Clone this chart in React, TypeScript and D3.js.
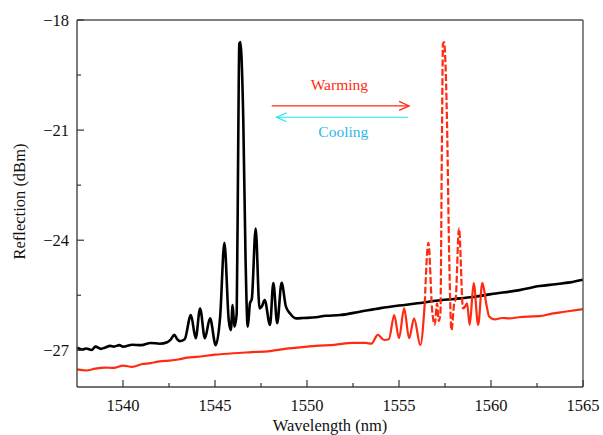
import React from 'react';
import * as d3 from 'd3';

const W = 603, H = 435;
const MARGIN = { top: 20, right: 20, bottom: 48, left: 77 };
const INNER_W = W - MARGIN.left - MARGIN.right;
const INNER_H = H - MARGIN.top - MARGIN.bottom;

// axis ticks
const X_MAJOR = [1540, 1545, 1550, 1555, 1560, 1565];
const X_MINOR = [1542.5, 1547.5, 1552.5, 1557.5, 1562.5];
const Y_MAJOR = [-27, -24, -21, -18];
const Y_MINOR = [-25.5, -22.5, -19.5];

// black trace (before warming)
const blackWl = [
  1537.5, 1537.8, 1538.0, 1538.3, 1538.5, 1538.8, 1539.0, 1539.3, 1539.5, 1539.8, 1540.0, 1540.5, 1541.0, 1541.5, 1542.0,
  1542.4, 1542.6, 1542.79, 1542.95, 1543.1, 1543.35, 1543.69, 1543.95, 1544.19, 1544.45, 1544.73, 1545.04,
  1545.28, 1545.51, 1545.75, 1545.86, 1545.96, 1546.05, 1546.18, 1546.26, 1546.32, 1546.38,
  1546.44, 1546.54, 1546.66, 1546.78, 1546.9, 1547.0, 1547.21, 1547.42, 1547.55, 1547.7,
  1547.99, 1548.17, 1548.38, 1548.62, 1548.85, 1549.07, 1549.4, 1549.8, 1550.5, 1551.0,
  1551.8, 1552.87, 1554.0, 1555.0, 1556.0, 1557.0, 1558.0, 1559.0, 1560.0, 1561.55,
  1562.64, 1563.5, 1564.3, 1565.0,
];
const blackDb = [
  -26.93, -26.98, -26.95, -26.99, -26.9, -26.96, -26.93, -26.88, -26.9, -26.86, -26.9, -26.85, -26.86, -26.8, -26.82,
  -26.78, -26.7, -26.58, -26.7, -26.75, -26.7, -26.04, -26.67, -25.86, -26.67, -26.13, -26.86,
  -26.08, -24.07, -26.2, -26.45, -25.77, -26.36, -26.0, -21.5, -18.65, -18.6,
  -19.0, -20.8, -24.5, -26.36, -25.72, -25.6, -23.68, -25.86, -25.8, -25.63,
  -26.31, -25.17, -26.26, -25.16, -25.8, -25.99, -26.13, -26.12, -26.1, -26.06,
  -26.04, -25.95, -25.85, -25.78, -25.72, -25.65, -25.6, -25.55, -25.47, -25.36,
  -25.25, -25.2, -25.15, -25.08,
];

// red trace (after warming)
const redWl = [
  1537.5, 1538.0, 1538.5, 1539.0, 1539.5, 1540.0, 1540.5, 1541.0, 1541.5, 1542.0,
  1542.5, 1543.0, 1543.5, 1544.0, 1545.0, 1546.0, 1547.0, 1548.0, 1549.0, 1549.6,
  1550.5, 1551.5, 1552.5, 1553.2, 1553.5, 1553.85, 1554.2, 1554.45, 1554.74, 1555.0,
  1555.28, 1555.55, 1555.82, 1556.16, 1556.4, 1556.6, 1556.8, 1556.94, 1557.07, 1557.16,
  1557.25, 1557.33, 1557.39, 1557.45, 1557.51, 1557.61, 1557.73, 1557.85, 1558.0, 1558.08,
  1558.26, 1558.48, 1558.6, 1558.7, 1558.84, 1559.06, 1559.3, 1559.53, 1559.75, 1559.9,
  1560.2, 1560.6, 1561.0, 1561.5, 1562.0, 1562.64, 1563.3, 1564.0, 1565.0,
];
const redDb = [
  -27.52, -27.55, -27.5, -27.47, -27.48, -27.42, -27.45, -27.38, -27.35, -27.3,
  -27.28, -27.25, -27.2, -27.18, -27.12, -27.08, -27.05, -27.02, -26.95, -26.92,
  -26.88, -26.85, -26.8, -26.8, -26.82, -26.58, -26.72, -26.7, -26.04, -26.67,
  -25.86, -26.67, -26.13, -26.86, -25.72, -24.07, -25.9, -26.3, -25.72, -26.2,
  -26.0, -21.5, -18.65, -18.6, -19.0, -20.8, -24.5, -26.45, -25.72, -25.6,
  -23.68, -25.86, -25.8, -25.72, -26.31, -25.17, -26.31, -25.16, -25.75, -26.08,
  -26.16, -26.12, -26.13, -26.1, -26.08, -26.07, -26.0, -25.95, -25.88,
];
const RED_DASH_FROM = 1556.3;
const RED_DASH_TO = 1558.5;

// annotation (data coords)
const WARM = { x0: 1548.08, x1: 1555.55, y: -20.34, label: 'Warming', ly: -19.77 };
const COOL = { x0: 1555.49, x1: 1548.35, y: -20.65, label: 'Cooling', ly: -21.04 };

const FONT = '"Liberation Serif", "Times New Roman", serif';
const RED = '#ff2a10';
const CYAN = '#19e6f0';
const COOL_TXT = '#2ab8ea';

export default function App() {
  const x = d3.scaleLinear().domain([1537.5, 1565]).range([0, INNER_W]);
  const y = d3.scaleLinear().domain([-28, -18]).range([INNER_H, 0]);

  const black = blackWl.map((w, i) => [w, blackDb[i]] as [number, number]);
  const red = redWl.map((w, i) => [w, redDb[i]] as [number, number]);

  const line = d3.line<[number, number]>()
    .x(d => x(d[0]))
    .y(d => y(d[1]))
    .curve(d3.curveMonotoneX);

  const redLeft = red.filter(d => d[0] <= RED_DASH_FROM + 0.15);
  const redMid = red.filter(d => d[0] >= RED_DASH_FROM && d[0] <= RED_DASH_TO + 0.1);
  const redRight = red.filter(d => d[0] >= RED_DASH_TO - 0.05);

  const arrow = (a, color, dir) => {
    const xs = x(a.x0), xe = x(a.x1), yy = y(a.y);
    const back = xe - dir * 10;
    return (
      <g stroke={color} strokeWidth={1.2} fill="none">
        <line x1={xs} x2={xe} y1={yy} y2={yy} />
        <polyline points={`${back},${yy - 4.5} ${xe},${yy} ${back},${yy + 4.5}`} />
      </g>
    );
  };

  return (
    <svg width={W} height={H} style={{ position: 'absolute', left: 0, top: 0, background: '#fff' }}
      fontFamily={FONT}>
      <g transform={`translate(${MARGIN.left},${MARGIN.top})`}>
        {/* traces */}
        <path d={line(black) ?? ''} fill="none" stroke="#000" strokeWidth={2.6} strokeLinejoin="round" />
        <path d={line(redLeft) ?? ''} fill="none" stroke={RED} strokeWidth={2.2} strokeLinejoin="round" />
        <path d={line(redMid) ?? ''} fill="none" stroke={RED} strokeWidth={2.2} strokeDasharray="7,2.5" />
        <path d={line(redRight) ?? ''} fill="none" stroke={RED} strokeWidth={2.2} strokeLinejoin="round" />

        {/* annotation */}
        {arrow(WARM, RED, 1)}
        {arrow(COOL, CYAN, -1)}
        <text x={x((WARM.x0 + WARM.x1) / 2) - 1} y={y(WARM.ly)} dy="0.35em" textAnchor="middle"
          fontSize={15.5} fill={RED}>{WARM.label}</text>
        <text x={x((COOL.x0 + COOL.x1) / 2) + 1} y={y(COOL.ly)} dy="0.35em" textAnchor="middle"
          fontSize={15.5} fill={COOL_TXT}>{COOL.label}</text>

        {/* frame */}
        <line x1={0} x2={INNER_W} y1={0} y2={0} stroke="#000" strokeWidth={1.2} />
        <line x1={INNER_W} x2={INNER_W} y1={0} y2={INNER_H} stroke="#555" strokeWidth={1.4} />
        <line x1={0} x2={INNER_W} y1={INNER_H} y2={INNER_H} stroke="#444" strokeWidth={1.4} />
        <line x1={0} x2={0} y1={0} y2={INNER_H} stroke="#444" strokeWidth={1.4} />

        {/* x ticks */}
        {X_MAJOR.map(t => (
          <g key={'xm' + t} transform={`translate(${x(t)},0)`}>
            <line y1={INNER_H} y2={INNER_H - 7} stroke="#333" strokeWidth={1.2} />
            <text y={INNER_H + 24} textAnchor="middle" fontSize={16.5} fill="#111">{t}</text>
          </g>
        ))}
        {X_MINOR.map(t => (
          <line key={'xn' + t} x1={x(t)} x2={x(t)} y1={INNER_H} y2={INNER_H - 4} stroke="#333" strokeWidth={1.2} />
        ))}

        {/* y ticks */}
        {Y_MAJOR.map(t => (
          <g key={'ym' + t} transform={`translate(0,${y(t)})`}>
            <line x1={0} x2={7} stroke="#333" strokeWidth={1.2} />
            <text x={-8} dy="0.35em" textAnchor="end" fontSize={16.5} fill="#111">{`\u2212${Math.abs(t)}`}</text>
          </g>
        ))}
        {Y_MINOR.map(t => (
          <line key={'yn' + t} x1={0} x2={4} y1={y(t)} y2={y(t)} stroke="#333" strokeWidth={1.2} />
        ))}

        {/* axis titles */}
        <text x={INNER_W / 2} y={INNER_H + 44} textAnchor="middle" fontSize={16.5} fill="#111">Wavelength (nm)</text>
        <text transform={`translate(${-52},${INNER_H / 2 - 2}) rotate(-90)`} textAnchor="middle" fontSize={16.5}
          fill="#111">Reflection (dBm)</text>
      </g>
    </svg>
  );
}
